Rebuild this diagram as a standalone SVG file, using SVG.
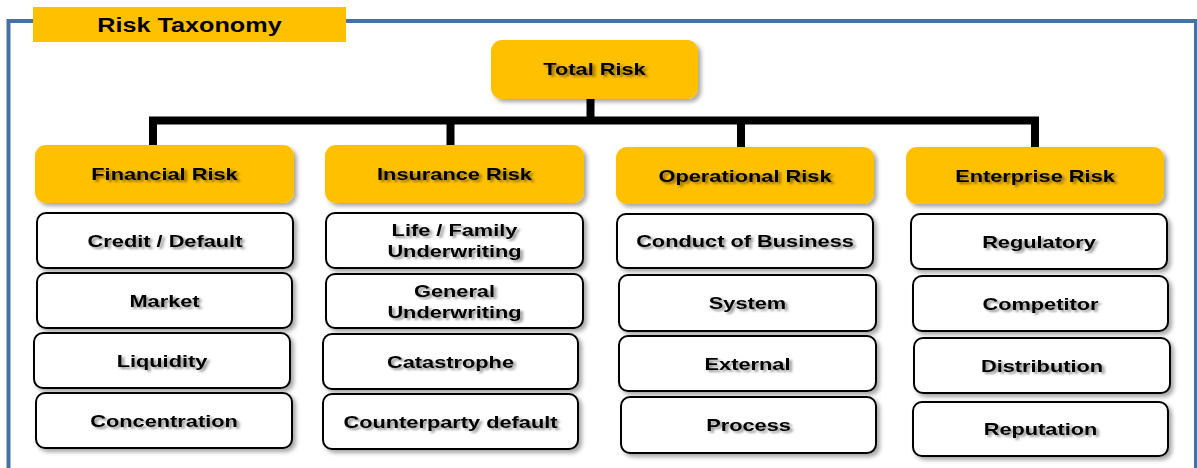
<svg xmlns="http://www.w3.org/2000/svg" width="1197" height="468" viewBox="0 0 1197 468">
  <defs>
    <filter id="boxShadow" x="-10%" y="-20%" width="125%" height="150%">
      <feDropShadow dx="3" dy="3" stdDeviation="2" flood-color="#000" flood-opacity="0.35"/>
    </filter>
    <filter id="textShadow" x="-10%" y="-30%" width="125%" height="170%">
      <feDropShadow dx="2" dy="2" stdDeviation="1.3" flood-color="#000" flood-opacity="0.45"/>
    </filter>
  </defs>
  <style>
    .frame { fill: none; stroke: #4672a1; stroke-width: 4; }
    .banner { fill: #ffc000; }
    .gold { fill: #ffc000; filter: url(#boxShadow); }
    .leaf { fill: #fff; stroke: #000; stroke-width: 2; filter: url(#boxShadow); }
    .link { fill: none; stroke: #000; stroke-width: 8; stroke-linejoin: miter; }
    text { font-family: "Liberation Sans", Arial, sans-serif; font-weight: bold; fill: #000; text-anchor: middle; }
    .lbl { font-size: 16.5px; filter: url(#textShadow); }
    .ttl { font-size: 21px; }
  </style>

  <!-- outer frame -->
  <path class="frame" d="M8.5,468 V21 H1196 V468"/>

  <!-- heading banner -->
  <g id="title">
    <rect class="banner" x="33" y="7" width="313" height="35"/>
    <text class="ttl" transform="translate(189.5,32) scale(1.2,1)">Risk Taxonomy</text>
  </g>

  <!-- tree connectors -->
  <g id="connectors">
    <path class="link" d="M590.5,99 V121"/>
    <path class="link" d="M153,147 V120.5 H1035 V147"/>
    <path class="link" d="M450.5,120.5 V146"/>
    <path class="link" d="M741,120.5 V148"/>
  </g>

  <!-- root -->
  <g id="total-risk">
    <rect class="gold" x="491" y="40" width="207" height="59" rx="11"/>
    <text class="lbl" transform="translate(594.5,75) scale(1.32,1)">Total Risk</text>
  </g>

  <!-- Financial column -->
  <g id="financial-risk">
    <rect class="gold" x="35" y="145" width="259" height="58" rx="11"/>
    <text class="lbl" transform="translate(164.5,180) scale(1.32,1)">Financial Risk</text>
  </g>
  <g id="credit-default">
    <rect class="leaf" x="37" y="213" width="256" height="55" rx="9"/>
    <text class="lbl" transform="translate(165,246.5) scale(1.32,1)">Credit / Default</text>
  </g>
  <g id="market">
    <rect class="leaf" x="37" y="273" width="255" height="55" rx="9"/>
    <text class="lbl" transform="translate(164.5,306.5) scale(1.32,1)">Market</text>
  </g>
  <g id="liquidity">
    <rect class="leaf" x="34" y="333" width="256" height="55" rx="9"/>
    <text class="lbl" transform="translate(162,366.5) scale(1.32,1)">Liquidity</text>
  </g>
  <g id="concentration">
    <rect class="leaf" x="36" y="393" width="256" height="55" rx="9"/>
    <text class="lbl" transform="translate(164,426.5) scale(1.32,1)">Concentration</text>
  </g>

  <!-- Insurance column -->
  <g id="insurance-risk">
    <rect class="gold" x="325" y="145" width="259" height="58" rx="11"/>
    <text class="lbl" transform="translate(454.5,180) scale(1.32,1)">Insurance Risk</text>
  </g>
  <g id="life-family">
    <rect class="leaf" x="326" y="213" width="257" height="55" rx="9"/>
    <text class="lbl" transform="translate(454.5,236) scale(1.32,1)">Life / Family</text>
    <text class="lbl" transform="translate(454.5,257) scale(1.32,1)">Underwriting</text>
  </g>
  <g id="general">
    <rect class="leaf" x="326" y="274" width="257" height="54" rx="9"/>
    <text class="lbl" transform="translate(454.5,297) scale(1.32,1)">General</text>
    <text class="lbl" transform="translate(454.5,318) scale(1.32,1)">Underwriting</text>
  </g>
  <g id="catastrophe">
    <rect class="leaf" x="323" y="334" width="255" height="55" rx="9"/>
    <text class="lbl" transform="translate(450.5,367.5) scale(1.32,1)">Catastrophe</text>
  </g>
  <g id="counterparty-default">
    <rect class="leaf" x="323" y="394" width="255" height="55" rx="9"/>
    <text class="lbl" transform="translate(450.5,427.5) scale(1.32,1)">Counterparty default</text>
  </g>

  <!-- Operational column -->
  <g id="operational-risk">
    <rect class="gold" x="616" y="147" width="258" height="57" rx="11"/>
    <text class="lbl" transform="translate(745,181.5) scale(1.32,1)">Operational Risk</text>
  </g>
  <g id="conduct">
    <rect class="leaf" x="617" y="214" width="256" height="54" rx="9"/>
    <text class="lbl" transform="translate(745,247) scale(1.32,1)">Conduct of Business</text>
  </g>
  <g id="system">
    <rect class="leaf" x="619" y="275" width="257" height="56" rx="9"/>
    <text class="lbl" transform="translate(747.5,309) scale(1.32,1)">System</text>
  </g>
  <g id="external">
    <rect class="leaf" x="619" y="336" width="257" height="55" rx="9"/>
    <text class="lbl" transform="translate(747.5,369.5) scale(1.32,1)">External</text>
  </g>
  <g id="process">
    <rect class="leaf" x="621" y="397" width="255" height="56" rx="9"/>
    <text class="lbl" transform="translate(748.5,431) scale(1.32,1)">Process</text>
  </g>

  <!-- Enterprise column -->
  <g id="enterprise-risk">
    <rect class="gold" x="906" y="147" width="258" height="57" rx="11"/>
    <text class="lbl" transform="translate(1035,181.5) scale(1.32,1)">Enterprise Risk</text>
  </g>
  <g id="regulatory">
    <rect class="leaf" x="911" y="214" width="256" height="55" rx="9"/>
    <text class="lbl" transform="translate(1039,247.5) scale(1.32,1)">Regulatory</text>
  </g>
  <g id="competitor">
    <rect class="leaf" x="913" y="276" width="255" height="55" rx="9"/>
    <text class="lbl" transform="translate(1040.5,309.5) scale(1.32,1)">Competitor</text>
  </g>
  <g id="distribution">
    <rect class="leaf" x="914" y="338" width="256" height="55" rx="9"/>
    <text class="lbl" transform="translate(1042,371.5) scale(1.32,1)">Distribution</text>
  </g>
  <g id="reputation">
    <rect class="leaf" x="913" y="402" width="255" height="54" rx="9"/>
    <text class="lbl" transform="translate(1040.5,435) scale(1.32,1)">Reputation</text>
  </g>
</svg>
